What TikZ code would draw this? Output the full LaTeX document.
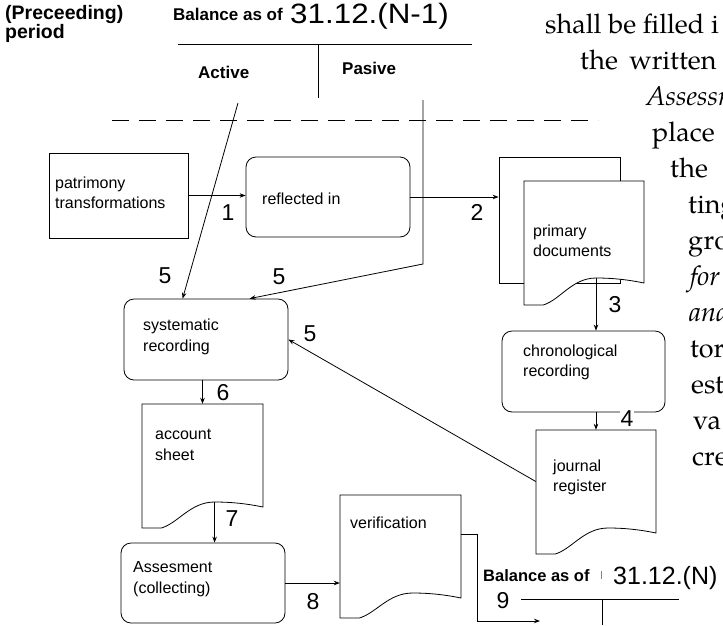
\documentclass[tikz,border=0pt]{standalone}
\usepackage{fontspec}
\setmainfont{Liberation Sans}
\newfontfamily\serifpal{TeX Gyre Pagella}
\usetikzlibrary{arrows.meta,calc}
\newcommand\docshape[6]{%
  \path[line,fill=white] (#2,#6) -- (#2,#4) -- (#3,#4) -- (#3,#5)
    .. controls ({#3-0.12*(#3-#2)},{#5-3}) and ({#2+0.75*(#3-#2)},{#5-5}) .. ({#2+0.6*(#3-#2)},{#5-5})
    .. controls ({#2+0.4*(#3-#2)},{#5-5}) and ({#2+0.3*(#3-#2)},{#6-5}) .. ({#2+0.16*(#3-#2)},#6) -- cycle;
  \coordinate (#1-peak) at ({#2+0.6*(#3-#2)},{#5-5});
  \node[inner sep=0,minimum width={#3pt-#2pt},minimum height={#5pt-#4pt}] (#1) at ({(#2+#3)/2},{(#4+#5)/2}) {};
}
\begin{document}
\begin{tikzpicture}[x=1pt,y=-1pt,
  line/.style={draw=black,line width=0.8pt},
  arr/.style={line,-{Stealth[length=6pt,width=4.5pt]}},
  rbox/.style={line,rounded corners=10pt,inner sep=0},
  sqbox/.style={line,inner sep=0},
  num/.style={font=\fontsize{23}{23}\selectfont,inner sep=1pt},
  numw/.style={num,fill=white},
  lbl/.style={font=\fontsize{16}{20.5}\selectfont,align=left,inner sep=0,anchor=west},
  head/.style={font=\bfseries\fontsize{17}{17}\selectfont,anchor=base west,inner sep=0},
  bighead/.style={head,font=\bfseries\fontsize{19.5}{19.5}\selectfont},
  date/.style={font=\fontsize{28}{28}\selectfont,anchor=base west,inner sep=0},
  para/.style={font=\serifpal\fontsize{27}{27}\selectfont,anchor=base west,inner sep=0}]
\useasboundingbox (0,0) rectangle (723,625);
\clip (0,0) rectangle (723,625);

% header (preceding period)
\node[bighead] (prec) at (5,19) {(Preceeding)};
\node[bighead] (per) at (5,38) {period};
\node[head] (bal1) at (173,20) {Balance as of};
\node[date,xscale=1.12] (date1) at (290,23) {31.12.(N-1)};
\coordinate (t1l) at (178,44);
\coordinate (t1r) at (472,44);
\coordinate (t1m) at (318,44);
\coordinate (t1b) at (318,98);
\draw[line] (t1l) -- (t1r);
\draw[line] (t1m) -- (t1b);
\node[head] (act) at (198,78) {Active};
\node[head] (pas) at (342,74) {Pasive};
\coordinate (dl) at (112,120);
\coordinate (dr) at (598,120);
\draw[line,dash pattern=on 17pt off 10pt] (dl) -- (dr);

% boxes
\node[sqbox,minimum width=139pt,minimum height=85pt] (pat) at (118.5,195.5) {};
\node[rbox,minimum width=164pt,minimum height=80pt] (refl) at (328,197) {};
\node[sqbox,fill=white,minimum width=121pt,minimum height=126pt] (primback) at (559.5,220) {};
\docshape{prim}{524}{644}{181}{283}{305}
\node[rbox,minimum width=163pt,minimum height=81pt] (chron) at (583.5,371.5) {};
\node[rbox,minimum width=164pt,minimum height=81pt] (sys) at (206,339.5) {};
\docshape{acc}{142}{263}{404}{507}{528}
\docshape{jour}{536}{656}{430}{533}{554}
\node[rbox,minimum width=164pt,minimum height=80pt] (ass) at (203,583) {};
\docshape{ver}{340}{461}{495}{598}{618}

% texts in boxes
\node[lbl] (tpat) at (55,193) {patrimony\\transformations};
\node[lbl] (trefl) at (262,199) {reflected in};
\node[lbl] (tprim) at (533,241) {primary\\documents};
\node[lbl] (tchron) at (523,362.5) {chronological\\recording};
\node[lbl] (tsys) at (143,337) {systematic\\recording};
\node[lbl] (tacc) at (155,445) {account\\sheet};
\node[lbl] (tjour) at (553,477.5) {journal\\register};
\node[lbl] (tass) at (133,579) {Assesment\\(collecting)};
\node[lbl] (tver) at (350,523) {verification};

% connectors
\draw[arr] (pat.east) -- (pat.east -| refl.west);
\draw[arr] (refl.east) -- (refl.east -| primback.west);
\draw[arr] (prim-peak) -- (prim-peak |- chron.north);
\draw[arr] (chron.south -| jour.north) -- (jour.north);
\draw[arr] (sys.south -| acc.north) -- (acc.north);
\draw[arr] (acc-peak) -- (acc-peak |- ass.north);
\draw[arr] (ass.east) -- (ass.east -| ver.west);
\coordinate (actstart) at (238,103);
\coordinate (passtart) at (423,100);
\coordinate (pasbend) at (423,264);
\draw[arr] (actstart) -- ([xshift=59pt]sys.north west);
\draw[arr] (passtart) -- (pasbend) -- ([xshift=126pt]sys.north west);
\draw[arr] (jour.west) -- (sys.east);
\coordinate (v9a) at (477,534);
\coordinate (v9b) at (477,621);
\coordinate (v9end) at (540,621);
\draw[arr] (ver.north east |- v9a) -- (v9a) -- (v9b) -- (v9end);

% number labels
\node[num] (n1) at (228,213) {1};
\node[num] (n2) at (477,212) {2};
\node[num] (n3) at (615,305) {3};
\node[numw] (n4) at (627,419) {4};
\node[num] (n5a) at (165,276) {5};
\node[num] (n5b) at (279,277) {5};
\node[num] (n5c) at (310,334) {5};
\node[numw] (n6) at (223,393) {6};
\node[num] (n7) at (232,519) {7};
\node[num] (n8) at (313,602) {8};
\node[num] (n9) at (503,601) {9};

% balance at end of period
\node[head,font=\bfseries\fontsize{16.5}{16.5}\selectfont] (bal2) at (483,581) {Balance as of};
\node[date,font=\fontsize{25}{25}\selectfont] (date2) at (613,584) {31.12.(N)};
\coordinate (tick1) at (601,571);
\coordinate (tick2) at (601,579);
\draw[line,line width=0.6pt,gray] (tick1) -- (tick2);
\coordinate (t2l) at (521,599);
\coordinate (t2r) at (679,599);
\coordinate (t2m) at (602,599);
\coordinate (t2b) at (602,625);
\draw[line] (t2l) -- (t2r);
\draw[line] (t2m) -- (t2b);

% clipped paragraph on the right (only its visible part)
\node[para] (p1) at (545,33) {shall be filled i};
\node[para] (p2) at (580,69) {the\, written};
\node[para] (p3) at (646,105) {\itshape Assessm};
\node[para] (p4) at (652,141) {place};
\node[para] (p5) at (670,177) {the};
\node[para] (p6) at (688,213) {ting};
\node[para] (p7) at (688,249) {gro};
\node[para] (p8) at (690,285) {\itshape for};
\node[para] (p9) at (689,321) {\itshape and};
\node[para] (p10) at (690,357) {tor};
\node[para] (p11) at (691,393) {est};
\node[para] (p12) at (693,429) {va};
\node[para] (p13) at (692,465) {cre};
\end{tikzpicture}
\end{document}
